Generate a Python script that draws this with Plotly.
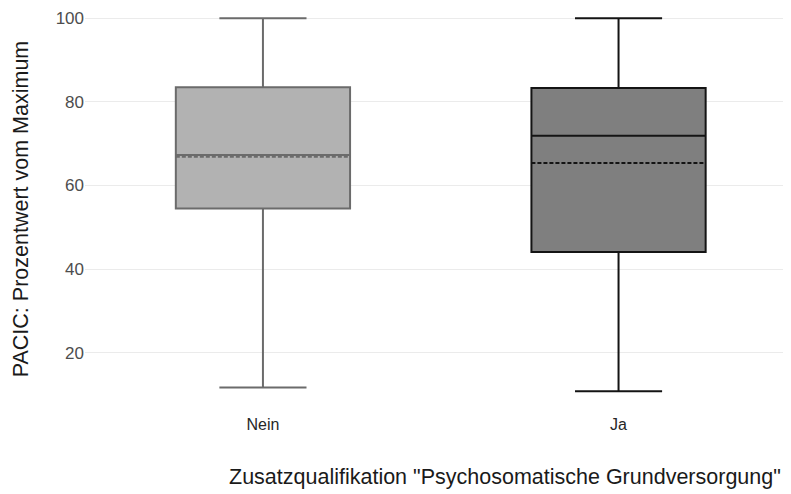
import plotly.graph_objects as go

categories = ["Nein", "Ja"]
q1 = [54.5, 44.1]
median = [67.3, 71.9]
mean = [66.9, 65.4]
q3 = [83.5, 83.3]
lower = [11.7, 10.8]
upper = [100.0, 100.0]
fills = ["#b2b2b2", "#7f7f7f"]
lines = ["#6b6b6b", "#141414"]

fig = go.Figure()
for i, c in enumerate(categories):
    fig.add_trace(go.Box(
        x=[c], q1=[q1[i]], median=[median[i]], q3=[q3[i]],
        lowerfence=[lower[i]], upperfence=[upper[i]], mean=[mean[i]],
        boxmean=True, boxpoints=False, width=0.49, whiskerwidth=0.5,
        fillcolor=fills[i], line=dict(color=lines[i], width=2),
        showlegend=False, hoverinfo="skip",
    ))

font = "Liberation Sans, Arial, sans-serif"
fig.update_layout(
    width=783, height=486,
    margin=dict(l=77, r=0, t=0, b=83.5, pad=0),
    paper_bgcolor="white", plot_bgcolor="white",
    font=dict(family=font, color="#4d4d4d", size=16),
    xaxis=dict(type="category", categoryorder="array", categoryarray=categories,
               range=[-0.5004, 1.485], showgrid=False, zeroline=False,
               ticks="", automargin=False, ticklabelstandoff=3,
               tickfont=dict(size=16, color="#262626"), showline=False),
    yaxis=dict(range=[6.3, 102.46], tickvals=[20, 40, 60, 80, 100],
               showgrid=True, gridcolor="#ebebeb", gridwidth=1, zeroline=False,
               ticks="", automargin=False,
               tickfont=dict(size=17, color="#4d4d4d"), showline=False,
               title=dict(text="PACIC: Prozentwert vom Maximum",
                          font=dict(size=21.5, color="#1a1a1a"), standoff=21)),
    annotations=[dict(text='Zusatzqualifikation "Psychosomatische Grundversorgung"',
                      xref="paper", yref="paper", x=0.595, y=-0.1677,
                      xanchor="center", yanchor="middle", showarrow=False,
                      font=dict(size=21.5, color="#1a1a1a"))],
)

fig.write_html("out.html")
